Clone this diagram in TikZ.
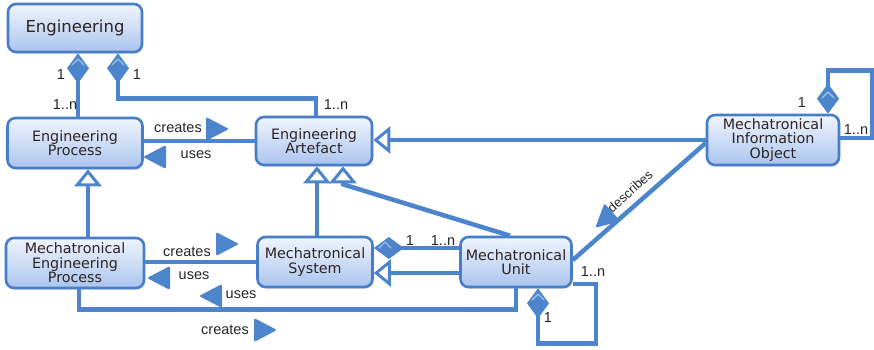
\documentclass[tikz,border=0pt]{standalone}
\usepackage{fontspec}
\setmainfont{DejaVu Sans}
\newfontfamily\lblfont{Liberation Sans}
\usetikzlibrary{arrows.meta,calc,shadows}

\definecolor{umlblue}{RGB}{76,133,204}
\definecolor{boxedge}{RGB}{72,126,200}
\definecolor{boxtop}{RGB}{240,245,253}
\definecolor{boxbot}{RGB}{170,196,238}
\definecolor{txt}{RGB}{45,35,35}

\tikzset{
  cls/.style={draw=boxedge, line width=2.6pt, rounded corners=8pt,
    top color=boxtop, bottom color=boxbot, text=txt, align=center,
    font=\fontsize{14.3}{14.5}\selectfont, inner sep=2pt,
    drop shadow={opacity=0.2, shadow xshift=1pt, shadow yshift=-2pt}},
  link/.style={draw=umlblue, line width=4.5pt},
  comp/.style={link, {Diamond[length=30pt,width=22pt,line width=1pt]}-},
  gen/.style={link, -{Triangle[length=17pt,width=27pt,fill=white,line width=3pt]}},
  lbl/.style={font=\lblfont\fontsize{14.5}{14.5}\selectfont, text=black!85, inner sep=0pt},
  marker/.pic={\fill[umlblue, rounded corners=2pt] (-10,-12) -- (13,0) -- (-10,12) -- cycle;},
  gloss/.pic={\draw[white, opacity=0.45, line width=1.4pt, line cap=round, line join=round]
    (-6,3) -- (0,-3) -- (6,3);},
}

\begin{document}
\begin{tikzpicture}[x=1pt,y=-1pt]
\useasboundingbox (0,0) rectangle (874,350);

% classes
\node[cls, minimum width=134pt, minimum height=48pt, font=\fontsize{16.5}{16.5}\selectfont] (eng) at (75,28) {Engineering};
\node[cls, minimum width=135pt, minimum height=50pt] (ep)  at (75,143)  {Engineering\\Process};
\node[cls, minimum width=116pt, minimum height=48pt] (ea)  at (314,141) {Engineering\\Artefact};
\node[cls, minimum width=132pt, minimum height=50pt] (mio) at (773,140) {Mechatronical\\Information\\Object};
\node[cls, minimum width=138pt, minimum height=50pt] (mep) at (75,263)  {Mechatronical\\Engineering\\Process};
\node[cls, minimum width=115pt, minimum height=50pt] (ms)  at (315,262) {Mechatronical\\System};
\node[cls, minimum width=111pt, minimum height=50pt] (mu)  at (516,262) {Mechatronical\\Unit};

% Engineering is composed of processes and artefacts
\draw[comp] ($(eng.south)+(3,0)$) -- ($(ep.north)+(3,0)$);
\draw[comp] ($(eng.south)+(43,0)$) -- ++(0,45) -| ($(ea.north)+(2,0)$);
\pic at (78,62) {gloss};
\pic at (118,62) {gloss};
\node[lbl] (m1) at (61,75)  {1};
\node[lbl] (m2) at (65,105) {1..n};
\node[lbl] (m3) at (137,75) {1};
\node[lbl] (m4) at (336,105) {1..n};

% process creates / uses artefact
\draw[link] (ep.east |- ea.west) -- (ea.west);
\node[lbl] (c1) at (178,128) {creates};
\pic at (216,129) {marker};
\node[lbl] (u1) at (196,155) {uses};
\pic[rotate=180] at (156,157) {marker};

% generalisations
\draw[gen] (mio.west) -- (mio.west -| ea.east);
\draw[gen] ($(ms.north)+(2,0)$) -- ($(ea.south)+(3,0)$);
\draw[gen] ($(mu.north)+(-6,0)$) -- ($(ea.south)+(29,18)$) -- ($(ea.south)+(29,0)$);
\draw[gen] ($(mep.north)+(13,0)$) -- ($(ep.south)+(13,0)$);
\draw[gen] ($(mu.west)+(0,11)$) -- ($(ms.east)+(0,11)$);

% mechatronical process creates / uses system
\draw[link] (mep.east |- ms.west) -- (ms.west);
\node[lbl] (c2) at (187,252) {creates};
\pic at (226,244) {marker};
\node[lbl] (u2) at (194,276) {uses};
\pic[rotate=180] at (160,278) {marker};

% system aggregates units
\draw[comp] ($(ms.east)+(0,-14)$) -- ($(mu.west)+(0,-14)$);
\pic at (385,245) {gloss};
\node[lbl] (m5) at (410,241) {1};
\node[lbl] (m6) at (443,241) {1..n};

% mechatronical process creates / uses unit
\draw[link] ($(mep.south)+(4,0)$) -- ++(0,20) -| (mu.south);
\node[lbl] (u3) at (241,295) {uses};
\pic[rotate=180] at (212,296) {marker};
\node[lbl] (c3) at (225,330) {creates};
\pic at (264,330) {marker};

% information object describes unit
\draw[link] ($(mu.east)+(0,-2)$) -- ($(mio.west)+(0,3)$);
\node[lbl, rotate=42, font=\lblfont\fontsize{13}{13}\selectfont] (d1) at (630,191) {describes};
\pic[rotate=222] at (605,219) {marker};

% unit composed of units
\draw[comp] ($(mu.south)+(22,0)$) -- ++(0,55) -| ($(mu.east)+(23,22)$) -- ($(mu.east)+(0,22)$);
\pic at (538,297) {gloss};
\node[lbl] (m7) at (593,272) {1..n};
\node[lbl] (m8) at (548,318) {1};

% information object composed of information objects
\draw[comp] ($(mio.north)+(55,0)$) -- ++(0,-43) -| ($(mio.east)+(32,-2)$) -- ($(mio.east)+(0,-2)$);
\pic at (828,95) {gloss};
\node[lbl] (m9) at (802,103) {1};
\node[lbl] (m10) at (856,130) {1..n};
\end{tikzpicture}
\end{document}
